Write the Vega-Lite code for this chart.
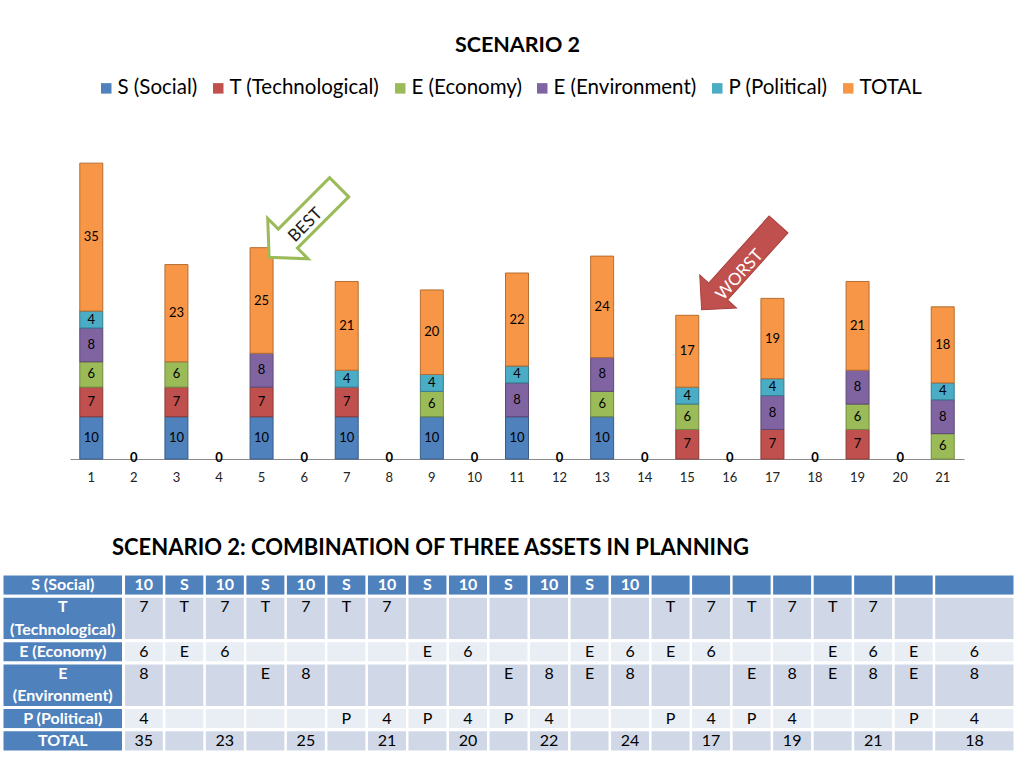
{
  "$schema": "https://vega.github.io/schema/vega-lite/v6.json",
  "background": "white",
  "padding": {"left": 0, "top": 34, "right": 0, "bottom": 0},
  "spacing": 52,
  "title": {"text": "SCENARIO 2", "fontSize": 21.5, "fontWeight": "bold", "font": "Lato", "color": "black", "offset": 22, "anchor": "middle", "dx": 9},
  "config": {
    "font": "Lato",
    "view": {"stroke": null},
    "legend": {"layout": {"top": {"anchor": "middle"}}}
  },
  "datasets": {
    "bars": [
      {"c": 1, "s": "S (Social)", "k": 1, "v": 10},
      {"c": 1, "s": "T (Technological)", "k": 2, "v": 7},
      {"c": 1, "s": "E (Economy)", "k": 3, "v": 6},
      {"c": 1, "s": "E (Environment)", "k": 4, "v": 8},
      {"c": 1, "s": "P (Political)", "k": 5, "v": 4},
      {"c": 1, "s": "TOTAL", "k": 6, "v": 35},
      {"c": 2, "s": "TOTAL", "k": 6, "v": 0},
      {"c": 3, "s": "S (Social)", "k": 1, "v": 10},
      {"c": 3, "s": "T (Technological)", "k": 2, "v": 7},
      {"c": 3, "s": "E (Economy)", "k": 3, "v": 6},
      {"c": 3, "s": "TOTAL", "k": 6, "v": 23},
      {"c": 4, "s": "TOTAL", "k": 6, "v": 0},
      {"c": 5, "s": "S (Social)", "k": 1, "v": 10},
      {"c": 5, "s": "T (Technological)", "k": 2, "v": 7},
      {"c": 5, "s": "E (Environment)", "k": 4, "v": 8},
      {"c": 5, "s": "TOTAL", "k": 6, "v": 25},
      {"c": 6, "s": "TOTAL", "k": 6, "v": 0},
      {"c": 7, "s": "S (Social)", "k": 1, "v": 10},
      {"c": 7, "s": "T (Technological)", "k": 2, "v": 7},
      {"c": 7, "s": "P (Political)", "k": 5, "v": 4},
      {"c": 7, "s": "TOTAL", "k": 6, "v": 21},
      {"c": 8, "s": "TOTAL", "k": 6, "v": 0},
      {"c": 9, "s": "S (Social)", "k": 1, "v": 10},
      {"c": 9, "s": "E (Economy)", "k": 3, "v": 6},
      {"c": 9, "s": "P (Political)", "k": 5, "v": 4},
      {"c": 9, "s": "TOTAL", "k": 6, "v": 20},
      {"c": 10, "s": "TOTAL", "k": 6, "v": 0},
      {"c": 11, "s": "S (Social)", "k": 1, "v": 10},
      {"c": 11, "s": "E (Environment)", "k": 4, "v": 8},
      {"c": 11, "s": "P (Political)", "k": 5, "v": 4},
      {"c": 11, "s": "TOTAL", "k": 6, "v": 22},
      {"c": 12, "s": "TOTAL", "k": 6, "v": 0},
      {"c": 13, "s": "S (Social)", "k": 1, "v": 10},
      {"c": 13, "s": "E (Economy)", "k": 3, "v": 6},
      {"c": 13, "s": "E (Environment)", "k": 4, "v": 8},
      {"c": 13, "s": "TOTAL", "k": 6, "v": 24},
      {"c": 14, "s": "TOTAL", "k": 6, "v": 0},
      {"c": 15, "s": "T (Technological)", "k": 2, "v": 7},
      {"c": 15, "s": "E (Economy)", "k": 3, "v": 6},
      {"c": 15, "s": "P (Political)", "k": 5, "v": 4},
      {"c": 15, "s": "TOTAL", "k": 6, "v": 17},
      {"c": 16, "s": "TOTAL", "k": 6, "v": 0},
      {"c": 17, "s": "T (Technological)", "k": 2, "v": 7},
      {"c": 17, "s": "E (Environment)", "k": 4, "v": 8},
      {"c": 17, "s": "P (Political)", "k": 5, "v": 4},
      {"c": 17, "s": "TOTAL", "k": 6, "v": 19},
      {"c": 18, "s": "TOTAL", "k": 6, "v": 0},
      {"c": 19, "s": "T (Technological)", "k": 2, "v": 7},
      {"c": 19, "s": "E (Economy)", "k": 3, "v": 6},
      {"c": 19, "s": "E (Environment)", "k": 4, "v": 8},
      {"c": 19, "s": "TOTAL", "k": 6, "v": 21},
      {"c": 20, "s": "TOTAL", "k": 6, "v": 0},
      {"c": 21, "s": "E (Economy)", "k": 3, "v": 6},
      {"c": 21, "s": "E (Environment)", "k": 4, "v": 8},
      {"c": 21, "s": "P (Political)", "k": 5, "v": 4},
      {"c": 21, "s": "TOTAL", "k": 6, "v": 18}
    ],
    "arrows": [
      {"n": "BEST", "p": 6.0, "q": 56.0},
      {"n": "WORST", "p": 16.24, "q": 45.4}
    ],
    "rows": [
      {"r": "S", "r2": "S"},
      {"r": "T1", "r2": "T2"},
      {"r": "EC", "r2": "EC"},
      {"r": "EN1", "r2": "EN2"},
      {"r": "P", "r2": "P"},
      {"r": "TOT", "r2": "TOT"}
    ],
    "cols": [
      {"c": "1"}, {"c": "2"}, {"c": "3"}, {"c": "4"}, {"c": "5"}, {"c": "6"}, {"c": "7"},
      {"c": "8"}, {"c": "9"}, {"c": "10"}, {"c": "11"}, {"c": "12"}, {"c": "13"}, {"c": "14"},
      {"c": "15"}, {"c": "16"}, {"c": "17"}, {"c": "18"}, {"c": "19"}, {"c": "20"}, {"c": "21"}
    ],
    "labels": [
      {"r": "S", "t": "S (Social)"},
      {"r": "T1", "t": "T"},
      {"r": "T2", "t": "(Technological)"},
      {"r": "EC", "t": "E (Economy)"},
      {"r": "EN1", "t": "E"},
      {"r": "EN2", "t": "(Environment)"},
      {"r": "P", "t": "P (Political)"},
      {"r": "TOT", "t": "TOTAL"}
    ],
    "cells": [
      {"r": "S", "c": "1", "t": "10"}, {"r": "S", "c": "2", "t": "S"}, {"r": "S", "c": "3", "t": "10"},
      {"r": "S", "c": "4", "t": "S"}, {"r": "S", "c": "5", "t": "10"}, {"r": "S", "c": "6", "t": "S"},
      {"r": "S", "c": "7", "t": "10"}, {"r": "S", "c": "8", "t": "S"}, {"r": "S", "c": "9", "t": "10"},
      {"r": "S", "c": "10", "t": "S"}, {"r": "S", "c": "11", "t": "10"}, {"r": "S", "c": "12", "t": "S"},
      {"r": "S", "c": "13", "t": "10"},
      {"r": "T1", "c": "1", "t": "7"}, {"r": "T1", "c": "2", "t": "T"}, {"r": "T1", "c": "3", "t": "7"},
      {"r": "T1", "c": "4", "t": "T"}, {"r": "T1", "c": "5", "t": "7"}, {"r": "T1", "c": "6", "t": "T"},
      {"r": "T1", "c": "7", "t": "7"}, {"r": "T1", "c": "14", "t": "T"}, {"r": "T1", "c": "15", "t": "7"},
      {"r": "T1", "c": "16", "t": "T"}, {"r": "T1", "c": "17", "t": "7"}, {"r": "T1", "c": "18", "t": "T"},
      {"r": "T1", "c": "19", "t": "7"},
      {"r": "EC", "c": "1", "t": "6"}, {"r": "EC", "c": "2", "t": "E"}, {"r": "EC", "c": "3", "t": "6"},
      {"r": "EC", "c": "8", "t": "E"}, {"r": "EC", "c": "9", "t": "6"}, {"r": "EC", "c": "12", "t": "E"},
      {"r": "EC", "c": "13", "t": "6"}, {"r": "EC", "c": "14", "t": "E"}, {"r": "EC", "c": "15", "t": "6"},
      {"r": "EC", "c": "18", "t": "E"}, {"r": "EC", "c": "19", "t": "6"}, {"r": "EC", "c": "20", "t": "E"},
      {"r": "EC", "c": "21", "t": "6"},
      {"r": "EN1", "c": "1", "t": "8"}, {"r": "EN1", "c": "4", "t": "E"}, {"r": "EN1", "c": "5", "t": "8"},
      {"r": "EN1", "c": "10", "t": "E"}, {"r": "EN1", "c": "11", "t": "8"}, {"r": "EN1", "c": "12", "t": "E"},
      {"r": "EN1", "c": "13", "t": "8"}, {"r": "EN1", "c": "16", "t": "E"}, {"r": "EN1", "c": "17", "t": "8"},
      {"r": "EN1", "c": "18", "t": "E"}, {"r": "EN1", "c": "19", "t": "8"}, {"r": "EN1", "c": "20", "t": "E"},
      {"r": "EN1", "c": "21", "t": "8"},
      {"r": "P", "c": "1", "t": "4"}, {"r": "P", "c": "6", "t": "P"}, {"r": "P", "c": "7", "t": "4"},
      {"r": "P", "c": "8", "t": "P"}, {"r": "P", "c": "9", "t": "4"}, {"r": "P", "c": "10", "t": "P"},
      {"r": "P", "c": "11", "t": "4"}, {"r": "P", "c": "14", "t": "P"}, {"r": "P", "c": "15", "t": "4"},
      {"r": "P", "c": "16", "t": "P"}, {"r": "P", "c": "17", "t": "4"}, {"r": "P", "c": "20", "t": "P"},
      {"r": "P", "c": "21", "t": "4"},
      {"r": "TOT", "c": "1", "t": "35"}, {"r": "TOT", "c": "3", "t": "23"}, {"r": "TOT", "c": "5", "t": "25"},
      {"r": "TOT", "c": "7", "t": "21"}, {"r": "TOT", "c": "9", "t": "20"}, {"r": "TOT", "c": "11", "t": "22"},
      {"r": "TOT", "c": "13", "t": "24"}, {"r": "TOT", "c": "15", "t": "17"}, {"r": "TOT", "c": "17", "t": "19"},
      {"r": "TOT", "c": "19", "t": "21"}, {"r": "TOT", "c": "21", "t": "18"}
    ]
  },
  "vconcat": [
    {
      "width": 1013,
      "height": 317,
      "resolve": {"scale": {"x": "independent"}},
      "layer": [
        {
          "data": {"name": "bars"},
          "encoding": {
            "x": {
              "field": "c", "type": "ordinal",
              "scale": {"type": "band", "domain": [1,2,3,4,5,6,7,8,9,10,11,12,13,14,15,16,17,18,19,20,21], "range": [68, 962], "paddingInner": 0.46, "paddingOuter": 0.23},
              "axis": {"title": null, "labelAngle": 0, "labelFontSize": 13, "labelColor": "#222", "labelFont": "Lato", "ticks": false, "domainColor": "#8a8a8a", "domainWidth": 1, "labelPadding": 12, "grid": false}
            }
          },
          "layer": [
            {
              "transform": [{"filter": "datum.v > 0"}],
              "mark": {"type": "bar", "strokeWidth": 1},
              "encoding": {
                "y": {"field": "v", "type": "quantitative", "stack": "zero", "scale": {"domain": [0, 75], "nice": false}, "axis": null},
                "color": {"field": "s", "type": "nominal", "scale": {"domain": ["S (Social)", "T (Technological)", "E (Economy)", "E (Environment)", "P (Political)", "TOTAL"], "range": ["#4F81BD", "#C0504D", "#9BBB59", "#8064A2", "#4BACC6", "#F79646"]},
                  "legend": {"orient": "top", "direction": "horizontal", "title": null, "labelFontSize": 20.5, "labelFont": "Lato", "labelColor": "black", "symbolType": "square", "symbolSize": 110, "columnPadding": 10, "labelOffset": 1, "offset": 43, "symbolStrokeWidth": 0}},
                "stroke": {"field": "s", "type": "nominal", "scale": {"domain": ["S (Social)", "T (Technological)", "E (Economy)", "E (Environment)", "P (Political)", "TOTAL"], "range": ["#385D8A", "#8C3836", "#71893F", "#5C4776", "#357D91", "#B66D31"]}, "legend": null},
                "order": {"field": "k", "type": "quantitative"}
              }
            },
            {
              "transform": [{"filter": "datum.v > 0"}],
              "mark": {"type": "text", "fontSize": 13, "color": "black", "font": "Lato"},
              "encoding": {
                "y": {"field": "v", "type": "quantitative", "stack": "zero", "bandPosition": 0.5, "axis": null},
                "detail": {"field": "s", "type": "nominal"},
                "order": {"field": "k", "type": "quantitative"},
                "text": {"field": "v", "type": "quantitative"}
              }
            },
            {
              "transform": [{"filter": "datum.v == 0"}],
              "mark": {"type": "text", "fontSize": 13, "fontWeight": "bold", "color": "black", "dy": -1, "font": "Lato"},
              "encoding": {
                "y": {"field": "v", "type": "quantitative", "axis": null},
                "text": {"field": "v", "type": "quantitative"}
              }
            }
          ]
        },
        {
          "data": {"name": "arrows"},
          "encoding": {
            "x": {"field": "p", "type": "quantitative", "scale": {"domain": [0.5, 21.5], "range": [68, 962], "nice": false, "zero": false}, "axis": null},
            "y": {"field": "q", "type": "quantitative", "axis": null}
          },
          "layer": [
            {
              "mark": {"type": "point", "filled": true, "opacity": 1},
              "encoding": {
                "shape": {"condition": {"test": "datum.n === 'BEST'", "value": "M -0.861 -0.235 L 0.4 -0.235 L 0.4 -0.496 L 0.861 0 L 0.4 0.496 L 0.4 0.235 L -0.861 0.235 Z"}, "value": "M -1 -0.22 L 0.57 -0.22 L 0.57 -0.43 L 1 0 L 0.57 0.43 L 0.57 0.22 L -1 0.22 Z"},
                "size": {"value": 13225},
                "angle": {"condition": {"test": "datum.n === 'BEST'", "value": 135}, "value": 132},
                "fill": {"condition": {"test": "datum.n === 'BEST'", "value": "white"}, "value": "#C0504D"},
                "stroke": {"condition": {"test": "datum.n === 'BEST'", "value": "#9BBB59"}, "value": "#A8403D"},
                "strokeWidth": {"condition": {"test": "datum.n === 'BEST'", "value": 3}, "value": 1}
              }
            },
            {
              "transform": [{"filter": "datum.n === 'BEST'"}],
              "mark": {"type": "text", "fontSize": 17, "color": "#1a1a1a", "angle": 315, "dy": 3, "dx": -1, "font": "Lato"},
              "encoding": {"text": {"field": "n"}}
            },
            {
              "transform": [{"filter": "datum.n === 'WORST'"}],
              "mark": {"type": "text", "fontSize": 17, "color": "white", "angle": 312, "dy": 5, "dx": -6, "font": "Lato"},
              "encoding": {"text": {"field": "n"}}
            }
          ]
        }
      ]
    },
    {
      "width": 1013,
      "height": 178,
      "title": {"text": "SCENARIO 2: COMBINATION OF THREE ASSETS IN PLANNING", "anchor": "start", "frame": "group", "dx": 110, "fontSize": 22, "fontWeight": "bold", "font": "Lato", "color": "black", "offset": 13},
      "layer": [
        {
          "data": {"name": "rows"},
          "mark": {"type": "rect", "stroke": "white", "strokeWidth": 3},
          "encoding": {
            "x": {"datum": "L1", "type": "ordinal", "bandPosition": 0, "axis": null,
              "scale": {"type": "band", "domain": ["L1","L2","L3","1","2","3","4","5","6","7","8","9","10","11","12","13","14","15","16","17","18","19","20","21","21b"], "paddingInner": 0, "paddingOuter": 0}},
            "x2": {"datum": "L3", "bandPosition": 1},
            "y": {"field": "r", "type": "ordinal", "bandPosition": 0, "axis": null,
              "scale": {"type": "band", "domain": ["S","T1","T2","EC","EN1","EN2","P","TOT"], "paddingInner": 0, "paddingOuter": 0}},
            "y2": {"field": "r2", "bandPosition": 1},
            "fill": {"value": "#4F81BD"}
          }
        },
        {
          "data": {"name": "rows"},
          "mark": {"type": "rect", "stroke": "white", "strokeWidth": 3},
          "encoding": {
            "x": {"datum": "1", "type": "ordinal", "bandPosition": 0, "axis": null},
            "x2": {"datum": "21b", "bandPosition": 1},
            "y": {"field": "r", "type": "ordinal", "bandPosition": 0, "axis": null},
            "y2": {"field": "r2", "bandPosition": 1},
            "fill": {"condition": [{"test": "datum.r === 'S'", "value": "#4F81BD"}, {"test": "datum.r === 'EC' || datum.r === 'P'", "value": "#E9EDF4"}], "value": "#D0D8E8"}
          }
        },
        {
          "data": {"name": "cols"},
          "mark": {"type": "rule", "stroke": "white", "strokeWidth": 2.5},
          "encoding": {
            "x": {"field": "c", "type": "ordinal", "bandPosition": 0, "axis": null}
          }
        },
        {
          "data": {"name": "labels"},
          "mark": {"type": "text", "color": "white", "fontWeight": "bold", "fontSize": 16, "font": "Lato"},
          "encoding": {
            "x": {"datum": "L2", "type": "ordinal", "axis": null},
            "y": {"field": "r", "type": "ordinal", "axis": null},
            "text": {"field": "t"}
          }
        },
        {
          "data": {"name": "cells"},
          "transform": [{"filter": "datum.r === 'S'"}],
          "mark": {"type": "text", "color": "white", "fontWeight": "bold", "fontSize": 16, "font": "Lato"},
          "encoding": {
            "x": {"field": "c", "type": "ordinal", "axis": null},
            "y": {"field": "r", "type": "ordinal", "axis": null},
            "text": {"field": "t"}
          }
        },
        {
          "data": {"name": "cells"},
          "transform": [{"filter": "datum.r !== 'S' && datum.c !== '21'"}],
          "mark": {"type": "text", "color": "black", "fontSize": 16, "font": "Lato"},
          "encoding": {
            "x": {"field": "c", "type": "ordinal", "axis": null},
            "y": {"field": "r", "type": "ordinal", "axis": null},
            "text": {"field": "t"}
          }
        },
        {
          "data": {"name": "cells"},
          "transform": [{"filter": "datum.c === '21'"}],
          "mark": {"type": "text", "color": "black", "fontSize": 16, "font": "Lato"},
          "encoding": {
            "x": {"datum": "21b", "type": "ordinal", "bandPosition": 0, "axis": null},
            "y": {"field": "r", "type": "ordinal", "axis": null},
            "text": {"field": "t"}
          }
        }
      ]
    }
  ]
}
